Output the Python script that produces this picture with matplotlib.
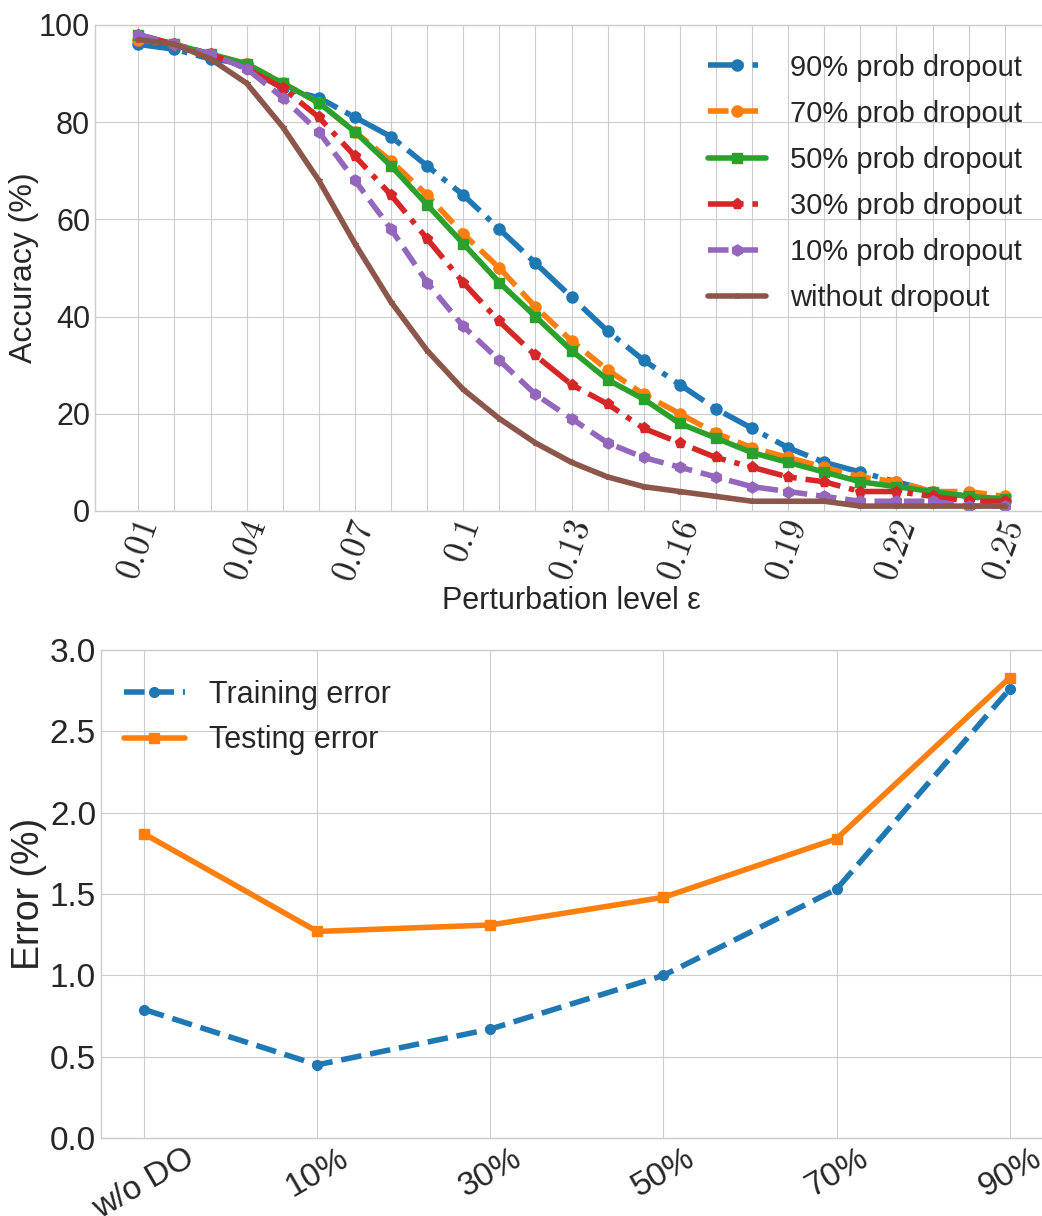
import numpy as np
import matplotlib
matplotlib.use('Agg')
import matplotlib.pyplot as plt

plt.style.use('seaborn-v0_8-whitegrid')
plt.rcParams['font.family'] = ['Liberation Sans', 'DejaVu Sans']
plt.rcParams['mathtext.fontset'] = 'cm'

# Accuracy under perturbation for each dropout setting
eps = [0.01, 0.02, 0.03, 0.04, 0.05, 0.06, 0.07, 0.08, 0.09, 0.10, 0.11, 0.12, 0.13,
       0.14, 0.15, 0.16, 0.17, 0.18, 0.19, 0.20, 0.21, 0.22, 0.23, 0.24, 0.25]
acc_90 = [96, 95, 93, 92, 87, 85, 81, 77, 71, 65, 58, 51, 44, 37, 31, 26, 21, 17, 13, 10, 8, 6, 4, 3, 2]
acc_70 = [97, 96, 94, 92, 88, 84, 78, 72, 65, 57, 50, 42, 35, 29, 24, 20, 16, 13, 11, 9, 7, 6, 4, 4, 3]
acc_50 = [98, 96, 94, 92, 88, 84, 78, 71, 63, 55, 47, 40, 33, 27, 23, 18, 15, 12, 10, 8, 6, 5, 4, 3, 2.5]
acc_30 = [98, 96, 94, 91, 87, 81, 73, 65, 56, 47, 39, 32, 26, 22, 17, 14, 11, 9, 7, 6, 4, 4, 3, 2, 2]
acc_10 = [98, 96, 94, 91, 85, 78, 68, 58, 47, 38, 31, 24, 19, 14, 11, 9, 7, 5, 4, 3, 2, 2, 2, 1, 1]
acc_none = [97, 96, 93, 88, 79, 68, 55, 43, 33, 25, 19, 14, 10, 7, 5, 4, 3, 2, 2, 2, 1, 1, 1, 1, 1]

# Training / testing error per dropout rate
do_labels = ['w/o DO', '10%', '30%', '50%', '70%', '90%']
train_err = [0.79, 0.45, 0.67, 1.00, 1.53, 2.76]
test_err = [1.87, 1.27, 1.31, 1.48, 1.84, 2.83]

fig = plt.figure(figsize=(10.42, 12.16), dpi=100)
ax1 = fig.add_axes([0.0912, 0.5798, 0.9146, 0.3997])
ax2 = fig.add_axes([0.0969, 0.0641, 0.9136, 0.4013])

series = [
    (acc_90, '90% prob dropout', '-.', 'o', 8),
    (acc_70, '70% prob dropout', '--', 'o', 8),
    (acc_50, '50% prob dropout', '-', 's', 7),
    (acc_30, '30% prob dropout', '-.', 'p', 8),
    (acc_10, '10% prob dropout', '--', 'h', 8),
    (acc_none, 'without dropout', '-', '*', 4),
]
for vals, label, ls, mk, ms in series:
    ax1.plot(eps, vals, linestyle=ls, marker=mk, markersize=ms, linewidth=4, label=label)

ax1.set_xlim(-0.002, 0.262)
ax1.set_ylim(0, 100)
ax1.set_xticks(eps)
ax1.set_xticklabels(['$\\mathit{%g}$' % e if i % 3 == 0 else '' for i, e in enumerate(eps)],
                    rotation=70, fontsize=25)
ax1.set_yticks([0, 20, 40, 60, 80, 100])
ax1.tick_params(axis='y', labelsize=22)
ax1.set_xlabel('Perturbation level ε', fontsize=22, labelpad=0)
ax1.set_ylabel('Accuracy (%)', fontsize=23, labelpad=0)
ax1.legend(loc='upper right', bbox_to_anchor=(1.0, 0.995), fontsize=21,
           frameon=False, handlelength=2.0, labelspacing=0.62)

xpos = np.arange(len(do_labels))
ax2.plot(xpos, train_err, linestyle='--', marker='o', markersize=7, linewidth=4,
         color='tab:blue', label='Training error')
ax2.plot(xpos, test_err, linestyle='-', marker='s', markersize=7, linewidth=4,
         color='tab:orange', label='Testing error')
ax2.set_xlim(-0.25, 5.25)
ax2.set_ylim(0, 3.0)
ax2.set_xticks(xpos)
ax2.set_xticklabels(do_labels, rotation=30, fontsize=24)
ax2.set_yticks(np.arange(0, 3.01, 0.5))
ax2.set_yticklabels(['%.1f' % v for v in np.arange(0, 3.01, 0.5)])
ax2.tick_params(axis='y', labelsize=24)
ax2.set_ylabel('Error (%)', fontsize=27, labelpad=2)
ax2.legend(loc='upper left', bbox_to_anchor=(-0.005, 0.995), fontsize=22,
           frameon=False, handlelength=2.0)

fig.savefig('out.png', dpi=100)
